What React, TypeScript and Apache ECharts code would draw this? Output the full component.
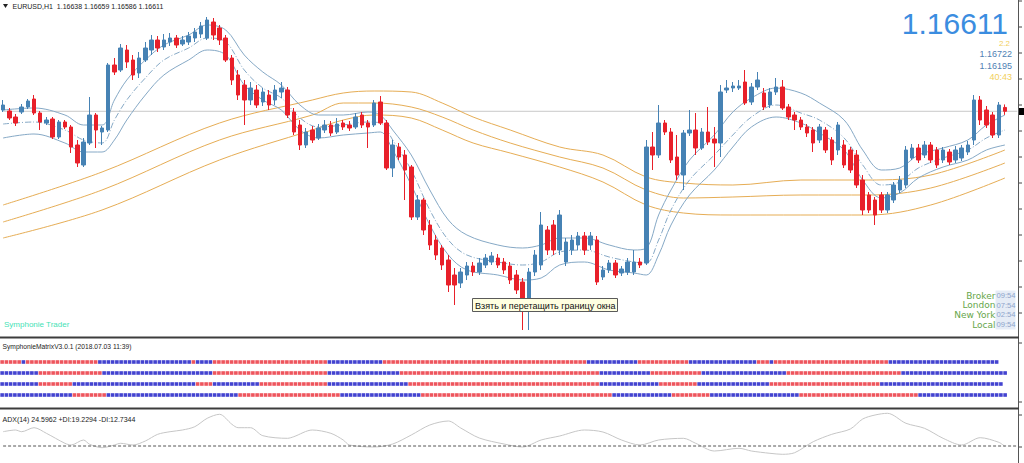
import React, { useEffect, useRef } from "react";
import * as echarts from "echarts";

// ---- quote header ----
const symbolName = "EURUSD,H1";
const lastQuote = { open: 1.16638, high: 1.16659, low: 1.16586, close: 1.16611 };
const infoLines = ["2.2", "1.16722", "1.16195", "40:43"];
const clockRows: [string, string][] = [
  ["Broker", "09:54"],
  ["London", "07:54"],
  ["New York", "02:54"],
  ["Local", "09:54"],
];

// ---- hourly candles: [open, close, low, high] ----
const candles: number[][] = [
  [1.16620, 1.16655, 1.16606, 1.16690],
  [1.16613, 1.16564, 1.16550, 1.16634],
  [1.16571, 1.16529, 1.16508, 1.16592],
  [1.16606, 1.16641, 1.16592, 1.16662],
  [1.16641, 1.16683, 1.16627, 1.16697],
  [1.16697, 1.16599, 1.16585, 1.16725],
  [1.16599, 1.16536, 1.16480, 1.16613],
  [1.16529, 1.16550, 1.16515, 1.16571],
  [1.16557, 1.16431, 1.16417, 1.16571],
  [1.16431, 1.16536, 1.16417, 1.16550],
  [1.16536, 1.16501, 1.16487, 1.16550],
  [1.16501, 1.16361, 1.16319, 1.16515],
  [1.16375, 1.16249, 1.16221, 1.16410],
  [1.16235, 1.16396, 1.16221, 1.16424],
  [1.16389, 1.16585, 1.16375, 1.16711],
  [1.16585, 1.16480, 1.16354, 1.16599],
  [1.16466, 1.16494, 1.16375, 1.16508],
  [1.16480, 1.16935, 1.16466, 1.16949],
  [1.16935, 1.16886, 1.16865, 1.16984],
  [1.16900, 1.17054, 1.16886, 1.17082],
  [1.17040, 1.16956, 1.16914, 1.17075],
  [1.16970, 1.16865, 1.16830, 1.17005],
  [1.16879, 1.16984, 1.16844, 1.17026],
  [1.16970, 1.17054, 1.16956, 1.17096],
  [1.17040, 1.17110, 1.17005, 1.17145],
  [1.17110, 1.17054, 1.17026, 1.17138],
  [1.17061, 1.17110, 1.17040, 1.17152],
  [1.17096, 1.17124, 1.17068, 1.17159],
  [1.17124, 1.17075, 1.17054, 1.17145],
  [1.17082, 1.17110, 1.17068, 1.17138],
  [1.17096, 1.17138, 1.17075, 1.17166],
  [1.17124, 1.17166, 1.17096, 1.17194],
  [1.17152, 1.17208, 1.17124, 1.17236],
  [1.17124, 1.17250, 1.17110, 1.17271],
  [1.17236, 1.17145, 1.17110, 1.17264],
  [1.17194, 1.17110, 1.17075, 1.17215],
  [1.17124, 1.16970, 1.16956, 1.17145],
  [1.16984, 1.16830, 1.16795, 1.17005],
  [1.16865, 1.16725, 1.16690, 1.16900],
  [1.16795, 1.16690, 1.16515, 1.16830],
  [1.16690, 1.16774, 1.16655, 1.16816],
  [1.16760, 1.16655, 1.16634, 1.16795],
  [1.16676, 1.16746, 1.16648, 1.16774],
  [1.16725, 1.16655, 1.16620, 1.16760],
  [1.16690, 1.16760, 1.16655, 1.16795],
  [1.16746, 1.16774, 1.16704, 1.16816],
  [1.16760, 1.16585, 1.16564, 1.16781],
  [1.16606, 1.16466, 1.16445, 1.16634],
  [1.16515, 1.16375, 1.16340, 1.16550],
  [1.16375, 1.16466, 1.16354, 1.16494],
  [1.16480, 1.16410, 1.16389, 1.16508],
  [1.16424, 1.16494, 1.16410, 1.16522],
  [1.16480, 1.16515, 1.16459, 1.16550],
  [1.16515, 1.16459, 1.16438, 1.16543],
  [1.16466, 1.16522, 1.16452, 1.16564],
  [1.16529, 1.16501, 1.16480, 1.16550],
  [1.16515, 1.16494, 1.16473, 1.16543],
  [1.16501, 1.16571, 1.16487, 1.16599],
  [1.16585, 1.16515, 1.16494, 1.16606],
  [1.16529, 1.16501, 1.16354, 1.16550],
  [1.16515, 1.16669, 1.16501, 1.16690],
  [1.16676, 1.16529, 1.16515, 1.16718],
  [1.16529, 1.16214, 1.16200, 1.16550],
  [1.16214, 1.16375, 1.16151, 1.16410],
  [1.16361, 1.16291, 1.16270, 1.16389],
  [1.16305, 1.16200, 1.15990, 1.16340],
  [1.16221, 1.15871, 1.15850, 1.16235],
  [1.15871, 1.15990, 1.15850, 1.16025],
  [1.15990, 1.15780, 1.15745, 1.16004],
  [1.15815, 1.15675, 1.15640, 1.15850],
  [1.15710, 1.15605, 1.15570, 1.15745],
  [1.15654, 1.15535, 1.15500, 1.15675],
  [1.15570, 1.15395, 1.15346, 1.15605],
  [1.15465, 1.15395, 1.15255, 1.15514],
  [1.15409, 1.15486, 1.15374, 1.15514],
  [1.15465, 1.15528, 1.15430, 1.15556],
  [1.15528, 1.15486, 1.15458, 1.15556],
  [1.15486, 1.15549, 1.15465, 1.15584],
  [1.15535, 1.15584, 1.15514, 1.15612],
  [1.15556, 1.15598, 1.15535, 1.15626],
  [1.15584, 1.15535, 1.15514, 1.15612],
  [1.15556, 1.15500, 1.15472, 1.15584],
  [1.15528, 1.15430, 1.15402, 1.15556],
  [1.15465, 1.15360, 1.15332, 1.15500],
  [1.15416, 1.15290, 1.15080, 1.15444],
  [1.15290, 1.15486, 1.15080, 1.15514],
  [1.15486, 1.15605, 1.15458, 1.15640],
  [1.15535, 1.15815, 1.15500, 1.15906],
  [1.15780, 1.15640, 1.15605, 1.15808],
  [1.15815, 1.15640, 1.15605, 1.15850],
  [1.15640, 1.15885, 1.15605, 1.15920],
  [1.15556, 1.15696, 1.15528, 1.15724],
  [1.15640, 1.15710, 1.15605, 1.15745],
  [1.15675, 1.15738, 1.15640, 1.15766],
  [1.15738, 1.15640, 1.15605, 1.15766],
  [1.15675, 1.15738, 1.15640, 1.15766],
  [1.15710, 1.15416, 1.15395, 1.15738],
  [1.15451, 1.15500, 1.15430, 1.15528],
  [1.15500, 1.15549, 1.15479, 1.15570],
  [1.15549, 1.15465, 1.15444, 1.15570],
  [1.15479, 1.15507, 1.15458, 1.15528],
  [1.15486, 1.15556, 1.15465, 1.15584],
  [1.15486, 1.15556, 1.15465, 1.15640],
  [1.15556, 1.15535, 1.15514, 1.15584],
  [1.15549, 1.16361, 1.15535, 1.16410],
  [1.16361, 1.16305, 1.16200, 1.16466],
  [1.16305, 1.16529, 1.16284, 1.16655],
  [1.16529, 1.16466, 1.16445, 1.16550],
  [1.16466, 1.16270, 1.16249, 1.16494],
  [1.16291, 1.16165, 1.16130, 1.16445],
  [1.16165, 1.16459, 1.16060, 1.16480],
  [1.16459, 1.16480, 1.16438, 1.16620],
  [1.16480, 1.16354, 1.16305, 1.16599],
  [1.16354, 1.16466, 1.16340, 1.16494],
  [1.16466, 1.16396, 1.16375, 1.16641],
  [1.16417, 1.16389, 1.16221, 1.16501],
  [1.16389, 1.16746, 1.16291, 1.16795],
  [1.16760, 1.16774, 1.16739, 1.16830],
  [1.16774, 1.16788, 1.16746, 1.16816],
  [1.16774, 1.16788, 1.16760, 1.16830],
  [1.16816, 1.16669, 1.16655, 1.16900],
  [1.16676, 1.16781, 1.16655, 1.16809],
  [1.16781, 1.16830, 1.16760, 1.16886],
  [1.16739, 1.16641, 1.16620, 1.16774],
  [1.16655, 1.16746, 1.16634, 1.16774],
  [1.16746, 1.16781, 1.16725, 1.16844],
  [1.16781, 1.16634, 1.16620, 1.16830],
  [1.16641, 1.16571, 1.16550, 1.16662],
  [1.16585, 1.16550, 1.16480, 1.16606],
  [1.16550, 1.16501, 1.16480, 1.16571],
  [1.16501, 1.16459, 1.16431, 1.16522],
  [1.16480, 1.16389, 1.16326, 1.16501],
  [1.16410, 1.16501, 1.16389, 1.16522],
  [1.16480, 1.16340, 1.16319, 1.16501],
  [1.16410, 1.16270, 1.16235, 1.16431],
  [1.16340, 1.16515, 1.16305, 1.16536],
  [1.16375, 1.16235, 1.16214, 1.16410],
  [1.16340, 1.16200, 1.16179, 1.16361],
  [1.16305, 1.16095, 1.16074, 1.16340],
  [1.16130, 1.15920, 1.15885, 1.16165],
  [1.16025, 1.15920, 1.15899, 1.16046],
  [1.15990, 1.15885, 1.15815, 1.16011],
  [1.16025, 1.15920, 1.15899, 1.16046],
  [1.15920, 1.16025, 1.15899, 1.16046],
  [1.15990, 1.16095, 1.15969, 1.16116],
  [1.16060, 1.16130, 1.16039, 1.16158],
  [1.16095, 1.16340, 1.16074, 1.16368],
  [1.16284, 1.16354, 1.16270, 1.16382],
  [1.16354, 1.16270, 1.16249, 1.16382],
  [1.16305, 1.16375, 1.16284, 1.16403],
  [1.16375, 1.16270, 1.16249, 1.16396],
  [1.16340, 1.16235, 1.16214, 1.16361],
  [1.16270, 1.16340, 1.16249, 1.16361],
  [1.16326, 1.16256, 1.16235, 1.16347],
  [1.16270, 1.16340, 1.16249, 1.16368],
  [1.16284, 1.16354, 1.16263, 1.16375],
  [1.16326, 1.16375, 1.16305, 1.16403],
  [1.16410, 1.16690, 1.16375, 1.16725],
  [1.16690, 1.16550, 1.16515, 1.16718],
  [1.16620, 1.16515, 1.16494, 1.16648],
  [1.16585, 1.16445, 1.16424, 1.16606],
  [1.16445, 1.16655, 1.16424, 1.16676],
  [1.16638, 1.16611, 1.16586, 1.16659],
];

// ---- price channel (fast), sampled at bar index: [bar, price] ----
const fastUpper: number[][] = [
  [0, 1.16620], [5, 1.16634], [10, 1.16585], [13, 1.16515], [16, 1.16515], [18, 1.16690],
  [20, 1.16830], [23, 1.16970], [26, 1.17075], [30, 1.17145], [33, 1.17215], [36, 1.17180],
  [39, 1.17005], [42, 1.16886], [45, 1.16795], [48, 1.16655], [51, 1.16585], [55, 1.16585],
  [59, 1.16606], [61, 1.16585], [63, 1.16480], [66, 1.16305], [69, 1.16060], [72, 1.15850],
  [75, 1.15745], [80, 1.15675], [84, 1.15654], [87, 1.15675], [90, 1.15724], [94, 1.15724],
  [98, 1.15675], [102, 1.15640], [104, 1.15654], [106, 1.15885], [108, 1.16060], [111, 1.16270],
  [115, 1.16445], [118, 1.16606], [121, 1.16704], [125, 1.16774], [129, 1.16739], [132, 1.16669],
  [136, 1.16550], [139, 1.16340], [142, 1.16200], [145, 1.16214], [148, 1.16305], [152, 1.16354],
  [156, 1.16410], [159, 1.16515], [162, 1.16585],
];
const fastMiddle: number[][] = [
  [0, 1.16522], [5, 1.16536], [10, 1.16480], [13, 1.16410], [16, 1.16389], [18, 1.16550],
  [20, 1.16690], [23, 1.16844], [26, 1.16970], [30, 1.17054], [33, 1.17124], [36, 1.17096],
  [39, 1.16900], [42, 1.16774], [45, 1.16704], [48, 1.16564], [51, 1.16501], [55, 1.16515],
  [59, 1.16536], [61, 1.16529], [63, 1.16410], [66, 1.16200], [69, 1.15920], [72, 1.15710],
  [75, 1.15605], [80, 1.15556], [84, 1.15535], [87, 1.15556], [90, 1.15626], [94, 1.15640],
  [98, 1.15591], [102, 1.15556], [104, 1.15549], [106, 1.15710], [108, 1.15920], [111, 1.16130],
  [115, 1.16305], [118, 1.16445], [121, 1.16571], [125, 1.16655], [129, 1.16599], [132, 1.16550],
  [136, 1.16424], [139, 1.16235], [142, 1.16095], [145, 1.16116], [148, 1.16214], [152, 1.16284],
  [156, 1.16340], [159, 1.16424], [162, 1.16480],
];
const fastLower: number[][] = [
  [0, 1.16424], [5, 1.16452], [10, 1.16389], [13, 1.16326], [16, 1.16326], [18, 1.16410],
  [20, 1.16550], [23, 1.16725], [26, 1.16865], [30, 1.16970], [33, 1.17040], [36, 1.17005],
  [39, 1.16795], [42, 1.16690], [45, 1.16620], [48, 1.16480], [51, 1.16424], [55, 1.16445],
  [59, 1.16459], [61, 1.16466], [63, 1.16340], [66, 1.16095], [69, 1.15815], [72, 1.15605],
  [75, 1.15500], [80, 1.15465], [84, 1.15430], [87, 1.15444], [90, 1.15535], [94, 1.15556],
  [98, 1.15500], [102, 1.15479], [104, 1.15465], [106, 1.15605], [108, 1.15815], [111, 1.16025],
  [115, 1.16200], [118, 1.16361], [121, 1.16501], [125, 1.16571], [129, 1.16529], [132, 1.16459],
  [136, 1.16340], [139, 1.16130], [142, 1.16004], [145, 1.16039], [148, 1.16144], [152, 1.16221],
  [156, 1.16270], [159, 1.16340], [162, 1.16375],
];

// ---- slow envelope ----
const slowUpper: number[][] = [
  [0, 1.15955], [16, 1.16186], [35, 1.16529], [50, 1.16690], [55, 1.16739], [60, 1.16753],
  [66, 1.16746], [71, 1.16669], [76, 1.16571], [82, 1.16480], [90, 1.16361], [97, 1.16305],
  [104, 1.16151], [110, 1.16109], [118, 1.16095], [129, 1.16130], [140, 1.16130], [150, 1.16165],
  [162, 1.16340],
];
const slowMiddle: number[][] = [
  [0, 1.15836], [16, 1.16060], [35, 1.16410], [50, 1.16585], [55, 1.16669], [60, 1.16669],
  [66, 1.16641], [71, 1.16571], [76, 1.16480], [82, 1.16389], [90, 1.16291], [97, 1.16214],
  [104, 1.16060], [110, 1.16004], [118, 1.16011], [129, 1.16025], [140, 1.16025], [150, 1.16074],
  [162, 1.16249],
];
const slowLower: number[][] = [
  [0, 1.15724], [16, 1.15920], [35, 1.16270], [50, 1.16480], [55, 1.16550], [60, 1.16585],
  [66, 1.16564], [71, 1.16480], [76, 1.16389], [82, 1.16319], [90, 1.16221], [97, 1.16116],
  [104, 1.15955], [110, 1.15899], [118, 1.15885], [129, 1.15885], [140, 1.15885], [150, 1.15955],
  [162, 1.16144],
];

// ---- ADX(14) ----
const adxTitle = "ADX(14) 24.5962 +DI:19.2294 -DI:12.7344";
const adxLevel = 25;
const adxLine: number[][] = [
  [0, 39.3], [2, 41], [3, 39.3], [5, 43.3], [7, 37.7], [10, 27.7], [11, 26], [13, 31], [14, 26.7],
  [16, 23.3], [18, 26], [19, 27.7], [21, 26], [23, 30], [25, 36.7], [27, 39.3], [29, 41], [31, 44.3],
  [33, 52.7], [35, 56.7], [37, 46.7], [38, 43.3], [40, 43.3], [42, 35.3], [46, 32.7], [47, 34.3],
  [50, 41], [53, 37.7], [55, 31], [56, 26], [60, 24], [63, 27], [66, 36], [69, 46], [72, 50],
  [74, 43], [77, 33], [81, 27], [84, 24], [87, 31], [90, 35], [94, 41], [97, 39], [100, 31],
  [103, 26], [106, 31], [110, 32.7], [112, 27.7], [115, 20], [119, 22.7], [121, 20], [124, 17.7],
  [126, 16.7], [128, 18.3], [131, 29.3], [134, 36.7], [137, 42], [139, 52], [141, 56], [143, 57.7],
  [146, 47.7], [149, 42.7], [152, 32.7], [155, 26], [158, 33.3], [161, 28.7], [162, 24.5962],
];

// ---- signal matrix: runs of [R|B, count] per row ----
const matrixTitle = "SymphonieMatrixV3.0.1 (2018.07.03 11:39)";
const matrixRows: [string, number][][] = [
  [["R", 5], ["B", 1], ["R", 17], ["B", 22], ["R", 1], ["B", 4], ["R", 27], ["B", 13], ["R", 48], ["B", 12], ["R", 12], ["B", 16], ["R", 3], ["B", 1], ["R", 27], ["B", 26]],
  [["B", 9], ["R", 15], ["B", 26], ["R", 27], ["B", 17], ["R", 47], ["B", 12], ["R", 12], ["B", 20], ["R", 27], ["B", 25]],
  [["B", 9], ["R", 8], ["B", 29], ["R", 4], ["B", 11], ["R", 16], ["B", 19], ["R", 45], ["B", 14], ["R", 9], ["B", 17], ["R", 26], ["B", 29]],
  [["B", 17], ["R", 8], ["B", 31], ["R", 24], ["B", 19], ["R", 45], ["B", 14], ["R", 9], ["B", 21], ["R", 28], ["B", 21]],
];

const BULL = "#4682b4";
const BEAR = "#e8202a";
const FAST = "#86a9c6";
const SLOW = "#e6ad55";
const UI_FONT = "Liberation Sans, Arial, sans-serif";
const BAR_SLOTS = 165;

function buildOption() {
  const barSlots = Array.from({ length: BAR_SLOTS }, (_, i) => String(i));
  const matrixSlots = Array.from({ length: 240 }, (_, i) => String(i));

  const red: number[][] = [];
  const blue: number[][] = [];
  matrixRows.forEach((runs, row) => {
    let col = 0;
    runs.forEach(([c, n]) => {
      for (let k = 0; k < n; k++) (c === "R" ? red : blue).push([col++, row]);
    });
  });

  const band = (data: number[][], color: string, dashed?: boolean) => ({
    type: "line",
    xAxisIndex: 0,
    yAxisIndex: 0,
    data,
    smooth: 0.35,
    showSymbol: false,
    silent: true,
    lineStyle: { color, width: 1, type: dashed ? [6, 2, 1, 2] : "solid" },
    z: 2,
  });

  const txt = (text: string, x: number, y: number, font: string, fill: string, align = "left", z = 50) => ({
    type: "text",
    x,
    y,
    silent: true,
    z,
    style: { text, font, fill, textAlign: align, textVerticalAlign: "middle" },
  });

  const tick = (y: number) => ({
    type: "line",
    z: 51,
    shape: { x1: 1019, y1: y, x2: 1022, y2: y },
    style: { stroke: "#444", lineWidth: 1 },
  });
  const ticks: any[] = [];
  for (let y = 1; y < 336; y += 26) ticks.push(tick(y));
  [343, 402, 415, 447].forEach((y) => ticks.push(tick(y)));

  const graphic: any[] = [
    { type: "rect", z: 49, shape: { x: 1019, y: 0, width: 6, height: 463 }, style: { fill: "#fff" } },
    { type: "line", z: 51, shape: { x1: 1018.5, y1: 0, x2: 1018.5, y2: 463 }, style: { stroke: "#555", lineWidth: 1 } },
    { type: "rect", z: 51, shape: { x: 0, y: 336.5, width: 1019, height: 2 }, style: { fill: "#3c3c3c" } },
    { type: "rect", z: 51, shape: { x: 0, y: 407.5, width: 1019, height: 2 }, style: { fill: "#3c3c3c" } },
    ...ticks,
    { type: "rect", z: 52, shape: { x: 1019, y: 108, width: 5, height: 7 }, style: { fill: "#000" } },
    // header
    { type: "polygon", z: 50, shape: { points: [[3, 4], [8, 4], [5.5, 8]] }, style: { fill: "#222" } },
    txt(
      `${symbolName}  ${lastQuote.open.toFixed(5)} ${lastQuote.high.toFixed(5)} ${lastQuote.low.toFixed(5)} ${lastQuote.close.toFixed(5)}`,
      12.5, 6.5, `7px ${UI_FONT}`, "#222"
    ),
    // big price + info
    txt(lastQuote.close.toFixed(5), 1008, 23, `30px ${UI_FONT}`, "#3b8de0", "right"),
    txt(infoLines[0], 1010, 43, `8px ${UI_FONT}`, "#f2cf5c", "right"),
    txt(infoLines[1], 1012, 53.5, `9px ${UI_FONT}`, "#4f7fb4", "right"),
    txt(infoLines[2], 1012, 65.5, `9px ${UI_FONT}`, "#4f7fb4", "right"),
    txt(infoLines[3], 1012, 77, `9px ${UI_FONT}`, "#f2cf5c", "right"),
    // clocks
    { type: "rect", z: 49, shape: { x: 995.5, y: 290.5, width: 20, height: 39 }, style: { fill: "#e6ecf6" } },
    ...clockRows.flatMap(([label, time], i) => [
      txt(label, 995.5, 295.5 + i * 9.7, `9px DejaVu Sans, sans-serif`, "#66a64a", "right"),
      txt(time, 996.5, 295.5 + i * 9.7, `7.6px ${UI_FONT}`, "#8ea4cc"),
    ]),
    txt("Symphonie Trader", 4, 324.5, `8px ${UI_FONT}`, "#46e2b6"),
    // window-border hint
    { type: "rect", z: 55, shape: { x: 472.5, y: 298.5, width: 145, height: 13 }, style: { fill: "#ffffe1", stroke: "#5a5a5a", lineWidth: 1 } },
    txt("Взять и перетащить границу окна", 475, 305.5, `9px ${UI_FONT}`, "#111", "left", 56),
    // sub-window titles
    txt(matrixTitle, 2.5, 346.7, `6.7px ${UI_FONT}`, "#222"),
    txt(adxTitle, 2.5, 419, `7px ${UI_FONT}`, "#222"),
  ];

  return {
    animation: false,
    backgroundColor: "#ffffff",
    grid: [
      { left: -2.6, top: 0, width: 1023, height: 336 },
      { left: 0, top: 356.5, width: 1020, height: 44 },
      { left: -2.6, top: 409, width: 1023, height: 54 },
    ],
    xAxis: [
      { type: "category", gridIndex: 0, data: barSlots, show: false },
      { type: "category", gridIndex: 1, data: matrixSlots, show: false },
      { type: "category", gridIndex: 2, data: barSlots, show: false },
    ],
    yAxis: [
      { type: "value", gridIndex: 0, min: 1.15038, max: 1.1739, show: false, splitLine: { show: false } },
      { type: "category", gridIndex: 1, data: ["0", "1", "2", "3"], inverse: true, show: false },
      { type: "value", gridIndex: 2, min: 8, max: 62, show: false, splitLine: { show: false } },
    ],
    series: [
      // bid line at the last close
      {
        type: "line",
        xAxisIndex: 0,
        yAxisIndex: 0,
        data: [[0, lastQuote.close], [BAR_SLOTS - 1, lastQuote.close]],
        showSymbol: false,
        silent: true,
        lineStyle: { color: "#c9c9c9", width: 1 },
        z: 1,
      },
      band(slowUpper, SLOW),
      band(slowMiddle, SLOW),
      band(slowLower, SLOW),
      band(fastUpper, FAST),
      band(fastMiddle, FAST, true),
      band(fastLower, FAST),
      {
        type: "candlestick",
        xAxisIndex: 0,
        yAxisIndex: 0,
        data: candles,
        barWidth: 4,
        silent: true,
        z: 3,
        itemStyle: { color: BULL, color0: BEAR, borderColor: BULL, borderColor0: BEAR, borderWidth: 1 },
      },
      {
        type: "scatter",
        xAxisIndex: 1,
        yAxisIndex: 1,
        data: red,
        symbol: "rect",
        symbolSize: [3.6, 3.6],
        silent: true,
        itemStyle: { color: "#ea2a34" },
      },
      {
        type: "scatter",
        xAxisIndex: 1,
        yAxisIndex: 1,
        data: blue,
        symbol: "rect",
        symbolSize: [3.6, 3.6],
        silent: true,
        itemStyle: { color: "#1414c4" },
      },
      {
        type: "line",
        xAxisIndex: 2,
        yAxisIndex: 2,
        data: adxLine,
        smooth: 0.3,
        showSymbol: false,
        silent: true,
        lineStyle: { color: "#c6c6c6", width: 1 },
      },
      {
        type: "line",
        xAxisIndex: 2,
        yAxisIndex: 2,
        data: [[0, adxLevel], [BAR_SLOTS - 1, adxLevel]],
        showSymbol: false,
        silent: true,
        lineStyle: { color: "#555", width: 1, type: [3, 2] },
      },
    ],
    graphic,
  };
}

export default function App() {
  const ref = useRef<HTMLDivElement>(null);
  useEffect(() => {
    if (!ref.current) return;
    const chart = echarts.init(ref.current, null, { renderer: "svg" });
    chart.setOption(buildOption() as any);
    return () => chart.dispose();
  }, []);
  return (
    <div
      ref={ref}
      style={{ position: "fixed", left: 0, top: 0, width: 1024, height: 463, background: "#fff" }}
    />
  );
}
